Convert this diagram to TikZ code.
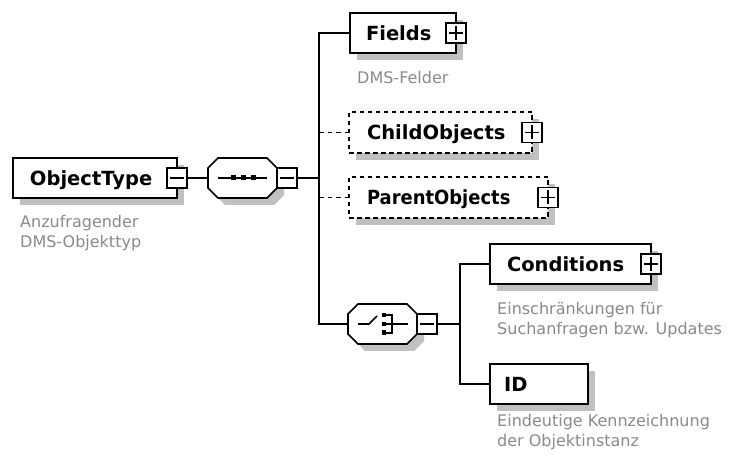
\documentclass[tikz,border=0pt]{standalone}
\usepackage{fontspec}
\setmainfont{DejaVu Sans}
\usetikzlibrary{shadows,calc}
\definecolor{shadowgrey}{RGB}{192,192,192}
\definecolor{descgrey}{RGB}{138,138,138}
\newcommand\elemfont{\bfseries\fontsize{19.5}{23}\selectfont}
\newcommand\descfont{\fontsize{16}{20}\selectfont}
\newcommand\octpath[3]{([shift={(#2+10,#3)}]#1.north west) -- ([shift={(#2-10,#3)}]#1.north east) -- ([shift={(#2,#3+10)}]#1.north east) -- ([shift={(#2,#3-10)}]#1.south east) -- ([shift={(#2-10,#3)}]#1.south east) -- ([shift={(#2+10,#3)}]#1.south west) -- ([shift={(#2,#3-10)}]#1.south west) -- ([shift={(#2,#3+10)}]#1.north west) -- cycle}
\newcommand\minussign[1]{\draw[lw] ([xshift=3pt]#1.west) -- ([xshift=-3pt]#1.east);}
\newcommand\plussign[1]{\draw[lw] ([xshift=3pt]#1.west) -- ([xshift=-3pt]#1.east); \draw[lw] ([yshift=3pt]#1.south) -- ([yshift=-3pt]#1.north);}
\begin{document}
\begin{tikzpicture}[x=1pt,y=-1pt,
  lw/.style={line width=1.7pt},
  elem/.style={lw, draw, fill=white, rectangle, anchor=north west, minimum height=40pt, inner ysep=0pt, outer sep=0pt, align=left, font=\elemfont, text height=14.5pt, text depth=0pt, drop shadow={shadow xshift=7pt, shadow yshift=-7pt, fill=shadowgrey, opacity=1}},
  optelem/.style={elem, dash pattern=on 4.5pt off 3.5pt},
  pm/.style={lw, draw, fill=white, minimum size=20pt, inner sep=0pt, outer sep=0pt},
  octnode/.style={minimum width=69pt, minimum height=40pt, inner sep=0pt, outer sep=0pt},
  desc/.style={anchor=north west, inner sep=0pt, align=left, font=\descfont, text=descgrey},
  conn/.style={lw},
  optconn/.style={lw, dash pattern=on 4.5pt off 4pt},
  dotsq/.style={fill=black}
  ]
\useasboundingbox[fill=white] (0,0) rectangle (732,457);

% elements
\node[elem, text width=130pt, inner xsep=17pt] (ot) at (13,158) {ObjectType};
\node[elem, text width=74pt, inner xsep=16pt] (fields) at (350,13) {Fields};
\node[optelem, minimum height=41pt, text width=147pt, inner xsep=18pt] (child) at (349,112) {ChildObjects};
\node[optelem, minimum height=41pt, text width=163pt, inner xsep=18pt] (parent) at (349,177) {\scalebox{0.92}[1]{ParentObjects}};
\node[elem, text width=127pt, inner xsep=17pt] (cond) at (490,244) {Conditions};
\node[elem, text width=70pt, inner xsep=14pt] (id) at (490,364) {ID};

% compositors
\node[octnode] (seq) at (242.5,178) {};
\node[octnode] (choice) at (382.5,324) {};
\fill[shadowgrey] \octpath{seq}{7}{7};
\draw[lw, fill=white] \octpath{seq}{0}{0};
\fill[shadowgrey] \octpath{choice}{7}{7};
\draw[lw, fill=white] \octpath{choice}{0}{0};

% sequence symbol
\draw[lw] (218,178) -- (267,178);
\fill[dotsq] (231,175.5) rectangle (236,180.5);
\fill[dotsq] (241,175.5) rectangle (246,180.5);
\fill[dotsq] (251,175.5) rectangle (256,180.5);

% choice symbol
\draw[lw] (358,324) -- (369,324) -- (377,316);
\fill[dotsq] (381.5,313) rectangle (386,317.5);
\fill[dotsq] (381.5,321.8) rectangle (386,326.3);
\fill[dotsq] (381.5,330.5) rectangle (386,335);
\draw[lw] (386,315.3) -- (392,315.3) -- (392,332.7) -- (386,332.7);
\draw[lw] (386,324) -- (408,324);

% expand / collapse buttons
\node[pm] (otm) at (ot.east) {};
\minussign{otm}
\node[pm, anchor=west] (seqm) at (seq.east) {};
\minussign{seqm}
\node[pm, anchor=west] (choicem) at (choice.east) {};
\minussign{choicem}
\node[pm] (fieldsp) at (fields.east) {};
\plussign{fieldsp}
\node[pm] (childp) at (child.east) {};
\plussign{childp}
\node[pm] (parentp) at (parent.east) {};
\plussign{parentp}
\node[pm] (condp) at (cond.east) {};
\plussign{condp}

% descriptions
\node[desc] (otd) at (20,215) {Anzufragender\\DMS-Objekttyp};
\node[desc] (fieldsd) at (357,71) {DMS-Felder};
\node[desc] (condd) at (497,302) {Einschränkungen für\\Suchanfragen bzw. Updates};
\node[desc] (idd) at (497,414) {Eindeutige Kennzeichnung\\der Objektinstanz};

% connectors
\coordinate (bus1) at (319,178);
\coordinate (bus2) at (460,324);
\draw[conn] (otm.east) -- (seq.west);
\draw[conn] (seqm.east) -- (bus1);
\draw[conn] (fields.west) -| (bus1) |- (choice.west);
\draw[optconn] (child.west -| bus1) -- (child.west);
\draw[optconn] (parent.west -| bus1) -- (parent.west);
\draw[conn] (choicem.east) -- (bus2);
\draw[conn] (cond.west) -| (bus2) |- (id.west);
\end{tikzpicture}
\end{document}
